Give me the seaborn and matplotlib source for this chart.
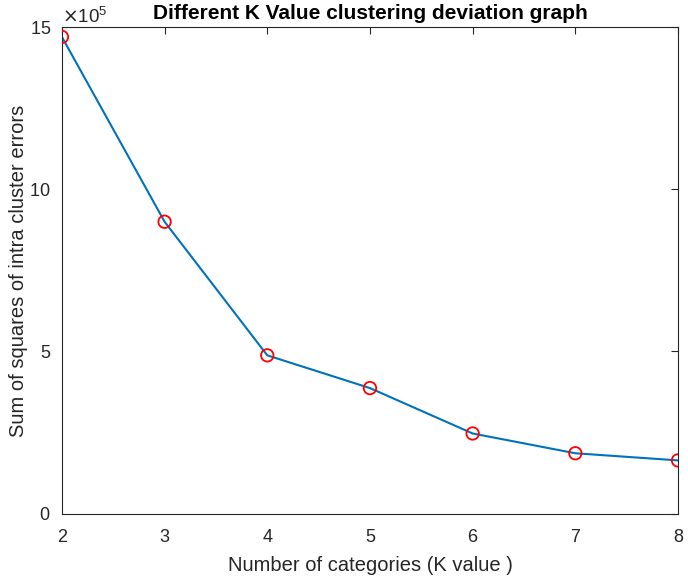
import numpy as np
import pandas as pd
import matplotlib
matplotlib.use('Agg')
import matplotlib.pyplot as plt
import seaborn as sns

# Datos
k_values = [2, 3, 4, 5, 6, 7, 8]
sse_values = [14.7e5, 9.0e5, 4.88e5, 3.87e5, 2.47e5, 1.86e5, 1.64e5]
y_ticks = [0, 5e5, 10e5, 15e5]

df = pd.DataFrame({'k': k_values, 'sse': sse_values})

sns.set_style('white')
plt.rcParams['font.family'] = ['Liberation Sans', 'DejaVu Sans']

fig = plt.figure(figsize=(6.88, 5.79), dpi=100)
ax = fig.add_axes([0.090, 0.113, 0.8955, 0.840])

# Linea y marcadores
sns.lineplot(data=df, x='k', y='sse', ax=ax, color='#0072BD', linewidth=1.5)
sns.scatterplot(data=df, x='k', y='sse', ax=ax, marker='o', s=80,
                facecolor='none', edgecolor='#FF0000', linewidth=1.3, zorder=3)

ax.set_xlim(2, 8)
ax.set_ylim(0, 15e5)
ax.set_yticks(y_ticks)
ax.set_xticks(k_values)
ax.ticklabel_format(axis='y', style='sci', scilimits=(5, 5), useMathText=True)
ax.yaxis.get_offset_text().set_fontsize(13.5)
ax.yaxis.get_offset_text().set_color('#262626')

ax.set_title('Different K Value clustering deviation graph', fontsize=15,
             fontweight='bold', color='black', pad=6)
ax.set_xlabel('Number of categories (K value )', fontsize=14.5, color='#262626',
              labelpad=7)
ax.set_ylabel('Sum of squares of intra cluster errors', fontsize=14.5,
              color='#262626', labelpad=1)

ax.tick_params(direction='in', length=5, width=0.8, top=True, right=True,
               labelsize=13, colors='#262626')
ax.tick_params(axis='x', pad=11)
ax.tick_params(axis='y', pad=8)
for sp in ax.spines.values():
    sp.set_visible(True)
    sp.set_color('#262626')
    sp.set_linewidth(0.8)

fig.savefig('out.png', dpi=100)
